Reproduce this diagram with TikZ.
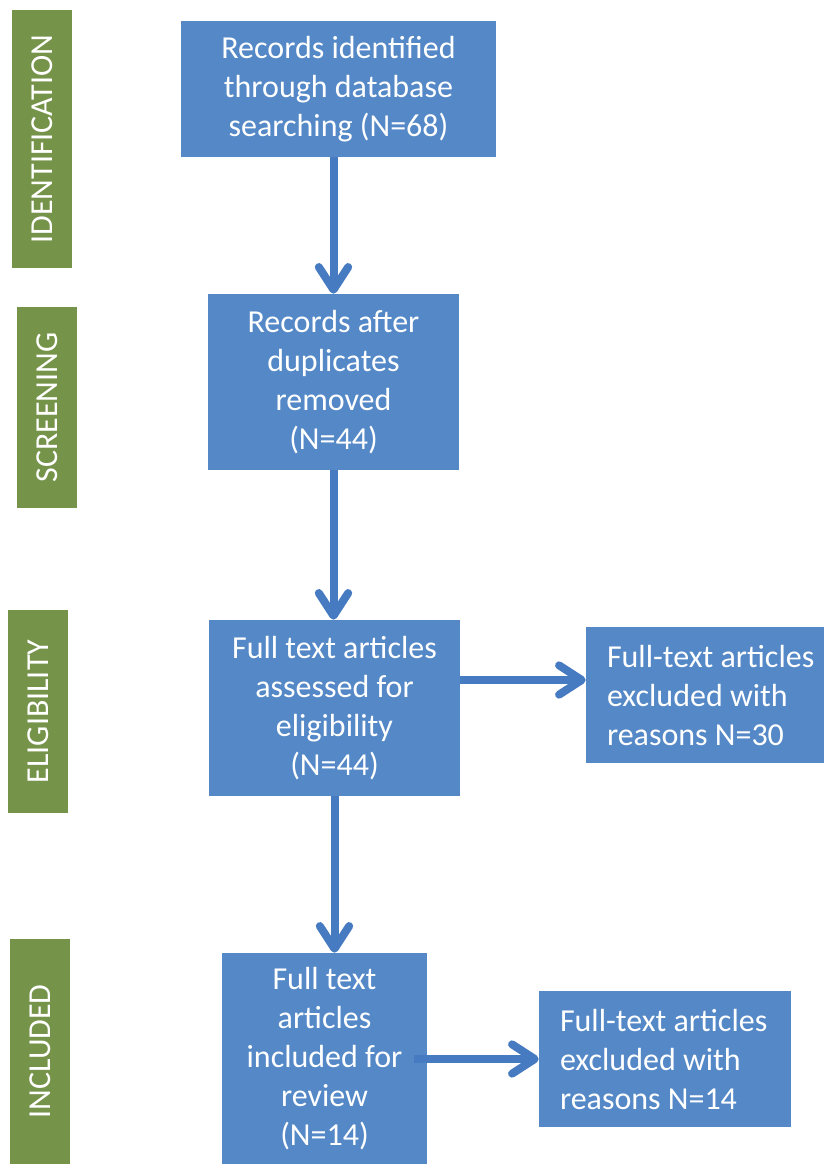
\documentclass[tikz,border=0pt]{standalone}
\usepackage{fontspec}
\setmainfont{Carlito}
\usetikzlibrary{arrows.meta,positioning}
\definecolor{boxblue}{RGB}{84,136,199}
\definecolor{arrowblue}{RGB}{71,123,193}
\definecolor{phasegreen}{RGB}{118,147,74}
\tikzset{
    flowbox/.style={fill=boxblue, text=white, align=center, font=\fontsize{24}{29.25}\selectfont, inner sep=0pt},
    flowside/.style={flowbox, align=flush left, text width=178.5pt, minimum height=102pt, execute at begin node={\leftskip=15.75pt\spaceskip=0pt\xspaceskip=0pt}},
    phaselabel/.style={fill=phasegreen, text=white, rotate=90, font=\fontsize{24}{29}\selectfont, minimum height=45pt, inner sep=0pt},
    flowarrow/.style={-{Straight Barb[length=17pt, width=22pt, round]}, line width=6pt, draw=arrowblue}
}
\begin{document}
\begin{tikzpicture}[x=0.75pt, y=-0.75pt]
        \useasboundingbox (0,0) rectangle (825,1164);
        % phase labels
        \node[phaselabel, minimum width=193.5pt] (ident) at (42,139) {IDENTIFICATION};
        \node[phaselabel, minimum width=150.75pt] (screen) at (47,407.5) {SCREENING};
        \node[phaselabel, minimum width=152.25pt] (elig) at (38,711.5) {ELIGIBILITY};
        \node[phaselabel, minimum width=168.75pt] (incl) at (40,1051.5) {INCLUDED};
        % main flow
        \node[flowbox, minimum width=236.25pt, minimum height=102pt] (records) at (338.5,89) {Records identified\\through database\\searching (N=68)};
        \node[flowbox, minimum width=188.25pt, minimum height=132pt] (dedup) at (333.5,382) {Records after\\duplicates\\removed\\(N=44)};
        \node[flowbox, minimum width=188.25pt, minimum height=132pt] (fulltext) at (334.5,708) {Full text articles\\assessed for\\eligibility\\(N=44)};
        \node[flowbox, minimum width=153.75pt, minimum height=159pt] (included) at (324.5,1059) {Full text\\articles\\included for\\review\\(N=14)};
        % exclusions
        \node[flowside] (exclA) at (705,695) {Full-text articles\\excluded with\\reasons N=30};
        \node[flowside, text width=189pt] (exclB) at (665,1059) {Full-text articles\\excluded with\\reasons N=14};
        \draw[flowarrow] (dedup.north |- records.south) -- (dedup.north);
        \draw[flowarrow] (dedup.south) -- (dedup.south |- fulltext.north);
        \draw[flowarrow] ([yshift=11.25pt]fulltext.east |- exclA.west) -- ([yshift=11.25pt]exclA.west);
        \draw[flowarrow] (fulltext.south) -- (fulltext.south |- included.north);
        \draw[flowarrow] ([xshift=-9.75pt]included.east) -- (exclB.west);
    \end{tikzpicture}
\end{document}
